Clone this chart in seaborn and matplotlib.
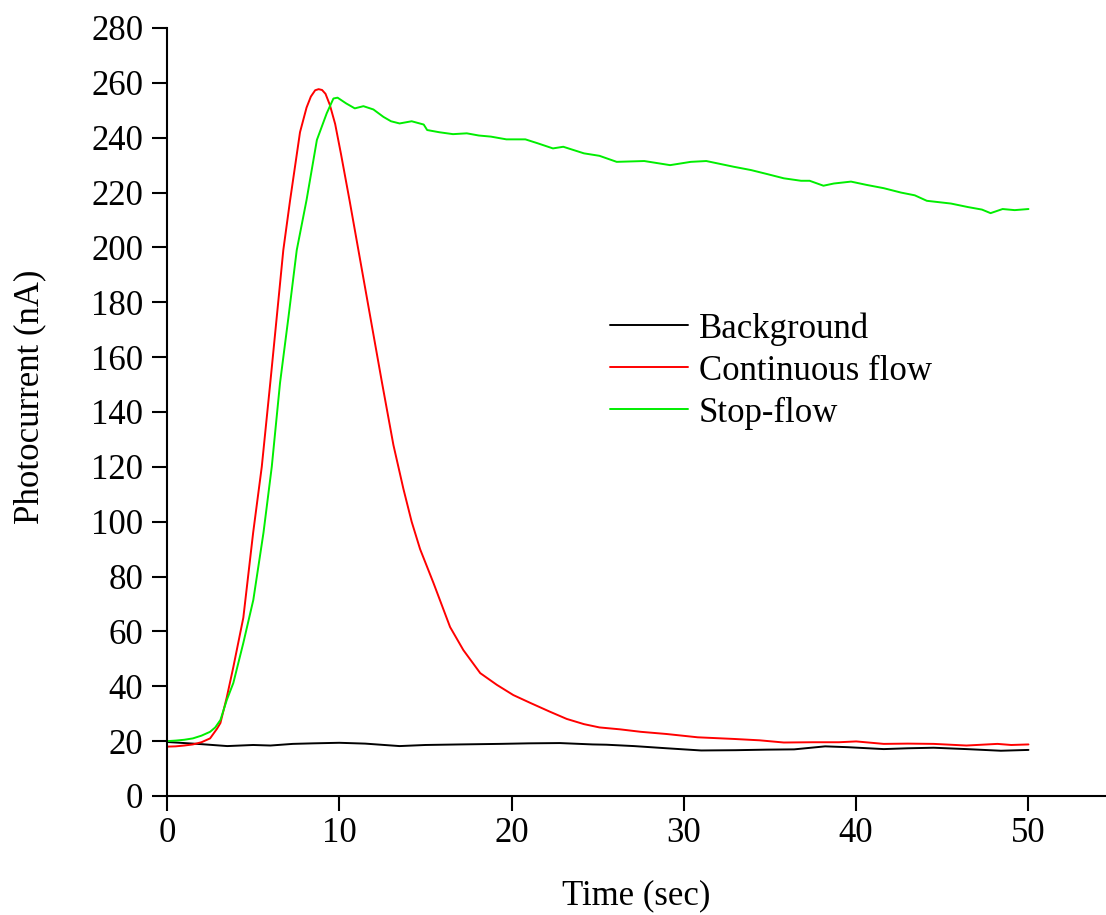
import numpy as np
import pandas as pd
import matplotlib
matplotlib.use("Agg")
import matplotlib.pyplot as plt
import seaborn as sns

# ---- data ----
bg_t = [0, 1, 2, 3.5, 5, 6, 7.3, 8.5, 10, 11.5, 13.5, 15, 17, 19.3, 21, 22.8, 24.7,
        25.5, 27.1, 29, 31, 33, 34.8, 36.4, 38.2, 39.5, 41.6, 43, 44.5, 46.4, 48.4, 50]
bg_v = [19.7, 19.3, 18.9, 18.2, 18.6, 18.4, 19.0, 19.2, 19.4, 19.1, 18.2, 18.6, 18.8, 19.0,
        19.2, 19.3, 18.8, 18.7, 18.2, 17.4, 16.6, 16.7, 16.9, 17.0, 18.1, 17.8, 17.1, 17.4,
        17.6, 17.1, 16.5, 16.8]

cf_t = [0, 0.5, 1, 1.5, 2, 2.5, 2.9, 3.1, 3.47, 3.85, 4.43, 5.0, 5.5, 6.0, 6.47, 6.75,
        7.14, 7.72, 8.1, 8.35, 8.6, 8.8, 9.0, 9.2, 9.45, 9.76, 10.1, 10.6, 11.11, 11.79, 12.47,
        13.14, 13.72, 14.2, 14.69, 15.47, 16.43, 17.2, 18.18, 19.15, 20.1, 21.1, 22.2, 23.2,
        24.2, 25.1, 26.3, 27.5, 29.0, 30.8, 32.9, 34.4, 35.8, 37.5, 39, 40, 41.6, 43, 44.5,
        46.4, 48.2, 49, 50]
cf_v = [18.0, 18.1, 18.4, 18.8, 19.6, 21.0, 24.5, 26.6, 36, 47, 65, 96, 120, 151, 181, 199,
        217, 242, 251, 255, 257.3, 257.7, 257.4, 256, 252, 245, 234, 217, 199, 175, 151,
        128, 112, 100, 90, 77.6, 61.6, 53.2, 44.8, 40.5, 36.8, 33.9, 30.8, 28.1,
        26.2, 25.0, 24.3, 23.4, 22.6, 21.4, 20.8, 20.3, 19.5, 19.6, 19.6, 19.9, 19.0, 19.1, 19.0,
        18.4, 19.0, 18.6, 18.8]

sf_t = [0, 0.5, 1, 1.5, 2, 2.5, 2.8, 3.1, 3.47, 3.85, 4.43, 5.01, 5.6, 6.08, 6.56, 7.05,
        7.53, 8.1, 8.7, 9.27, 9.66, 9.9, 10.4, 10.9, 11.4, 11.98, 12.56, 13.0, 13.5, 14.2,
        14.9, 15.1, 15.8, 16.6, 17.4, 18.1, 18.8, 19.7, 20.8, 21.5, 22.4, 23.0, 24.2, 25.1,
        26.1, 27.7, 29.2, 30.4, 31.3, 32.9, 33.9, 34.8, 35.8, 36.8, 37.3, 38.1, 38.7, 39.7,
        40.6, 41.6, 42.6, 43.4, 44.1, 45.5, 46.5, 47.3, 47.8, 48.5, 49.2, 50]
sf_v = [20.0, 20.2, 20.5, 21.0, 22.0, 23.4, 25, 27.7, 35, 41.2, 55.8, 71.5, 96, 120, 150.6,
        174.6, 199, 217.3, 239.2, 248.9, 254.3, 254.6, 252.5, 250.7, 251.5, 250.3, 247.6, 246.0,
        245.2, 246, 244.8, 242.8, 242.0, 241.3, 241.6, 240.8, 240.4, 239.4, 239.4, 238, 236.1,
        236.7, 234.3, 233.4, 231.2, 231.5, 230, 231.2, 231.5, 229.4, 228.2, 226.8, 225.2, 224.3,
        224.3, 222.5, 223.3, 224, 222.8, 221.6, 220, 219.0, 217, 216, 214.7, 213.8, 212.5, 214,
        213.6, 214]

series_names = ["Background", "Continuous flow", "Stop-flow"]
colors = ["#000000", "#ff0000", "#00ee00"]

df = pd.concat([
    pd.DataFrame({"t": bg_t, "v": bg_v, "series": series_names[0]}),
    pd.DataFrame({"t": cf_t, "v": cf_v, "series": series_names[1]}),
    pd.DataFrame({"t": sf_t, "v": sf_v, "series": series_names[2]}),
], ignore_index=True)

sns.set_style("ticks")
plt.rcParams["font.family"] = ["Liberation Serif", "DejaVu Serif"]
plt.rcParams["text.color"] = "black"
plt.rcParams["axes.labelcolor"] = "black"

W, H = 1106, 915
fig = plt.figure(figsize=(W / 100, H / 100), dpi=100)
ax = fig.add_axes([167 / W, (H - 796) / H, (W - 167) / W, (796 - 28) / H])

sns.lineplot(data=df, x="t", y="v", hue="series", hue_order=series_names,
             palette=colors, estimator=None, sort=False, linewidth=1.4, ax=ax)

ax.set_xlim(0, 54.5)
ax.set_ylim(0, 280)
ax.set_xticks([0, 10, 20, 30, 40, 50])
ax.set_yticks(np.arange(0, 281, 20))
for s in ["top", "right"]:
    ax.spines[s].set_visible(False)
for s in ["left", "bottom"]:
    ax.spines[s].set_linewidth(1.5)
    ax.spines[s].set_color("black")
ax.tick_params(axis="both", direction="out", length=11, width=1.5, colors="black",
               labelsize=25)
ax.tick_params(axis="y", pad=6)
ax.tick_params(axis="x", pad=4)

ax.set_xlabel("Time (sec)", fontsize=25, color="black")
ax.set_ylabel("Photocurrent (nA)", fontsize=25, color="black")
ax.xaxis.set_label_coords(0.5, -0.108)
ax.yaxis.set_label_coords(-0.129, 0.52)

handles, labels = ax.get_legend_handles_labels()
leg = ax.legend(handles, labels, loc="upper left", bbox_to_anchor=(610 / W, 1 - 312 / H),
                bbox_transform=fig.transFigure, frameon=False, fontsize=25,
                handlelength=2.25, handletextpad=0.3, labelspacing=0.26,
                borderpad=0, borderaxespad=0)
for txt in leg.get_texts():
    txt.set_color("black")

fig.savefig("out.png", dpi=100)
